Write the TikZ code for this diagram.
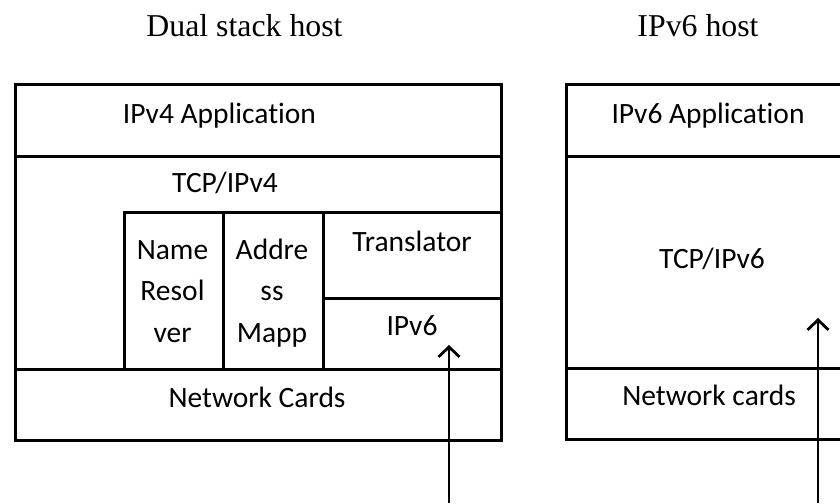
\documentclass[tikz,border=0pt]{standalone}
\usepackage{fontspec}
\setmainfont{Liberation Serif}
\newfontfamily\cellfont[Ligatures=NoCommon]{Carlito}
\usetikzlibrary{arrows.meta}

\begin{document}
\begin{tikzpicture}[x=1pt,y=-1pt,
  frame/.style={draw, line width=3.4pt, rectangle, inner sep=0pt, anchor=north west},
  cell/.style={font=\cellfont\fontsize{29.5}{41.5}\selectfont, anchor=base, inner sep=0pt, align=center},
  heading/.style={font=\fontsize{31.8}{36}\selectfont, anchor=base, inner sep=0pt},
  flow/.style={line width=2.8pt, -{Straight Barb[length=10pt,width=21pt,line width=2.8pt]}}]

\useasboundingbox (0,0) rectangle (840,503);

% headings
\node[heading] (hdual) at (244.5,37) {Dual stack host};
\node[heading] (hsix)  at (698,37)   {IPv6 host};

% dual stack host: layer boxes
\node[frame, minimum width=486pt, minimum height=72pt]  (app4)  at (14,83)  {};
\node[frame, minimum width=486pt, minimum height=213pt] (tcp4)  at (14,155) {};
\node[frame, minimum width=99pt,  minimum height=157pt] (name)  at (123,211) {};
\node[frame, minimum width=100pt, minimum height=157pt] (addr)  at (222,211) {};
\node[frame, minimum width=178pt, minimum height=86pt]  (trans) at (322,211) {};
\node[frame, minimum width=178pt, minimum height=71pt]  (ipsix) at (322,297) {};
\node[frame, minimum width=486pt, minimum height=71pt]  (nic4)  at (14,368) {};

% dual stack host: labels (multi-line labels sit on their last baseline)
\node[cell] (tapp4)  at (219.5,123) {IPv4 Application};
\node[cell] (ttcp4)  at (225,192)   {TCP/IPv4};
\node[cell] (tname)  at (172.5,342) {Name\\Resol\\ver};
\node[cell] (taddr)  at (272,342)   {Addre\\ss\\Mapp};
\node[cell] (ttrans) at (412,251)   {Translator};
\node[cell] (tipsix) at (412,335)   {IPv6};
\node[cell] (tnic4)  at (257,407)   {Network Cards};

% IPv6 host: layer boxes (running past the right edge)
\node[frame, minimum width=320pt, minimum height=72pt]  (app6) at (565,83)  {};
\node[frame, minimum width=320pt, minimum height=212pt] (tcp6) at (565,155) {};
\node[frame, minimum width=320pt, minimum height=71pt]  (nic6) at (565,367) {};

% IPv6 host: labels
\node[cell] (tapp6) at (708,123) {IPv6 Application};
\node[cell] (ttcp6) at (712,268) {TCP/IPv6};
\node[cell] (tnic6) at (709,405) {Network cards};

% packet paths coming up from below
\coordinate (inA)  at (449,503);
\coordinate (tipA) at (449,345);
\coordinate (inB)  at (818,503);
\coordinate (tipB) at (818,318);
\draw[flow] (inA) -- (tipA);
\draw[flow] (inB) -- (tipB);

\end{tikzpicture}
\end{document}
